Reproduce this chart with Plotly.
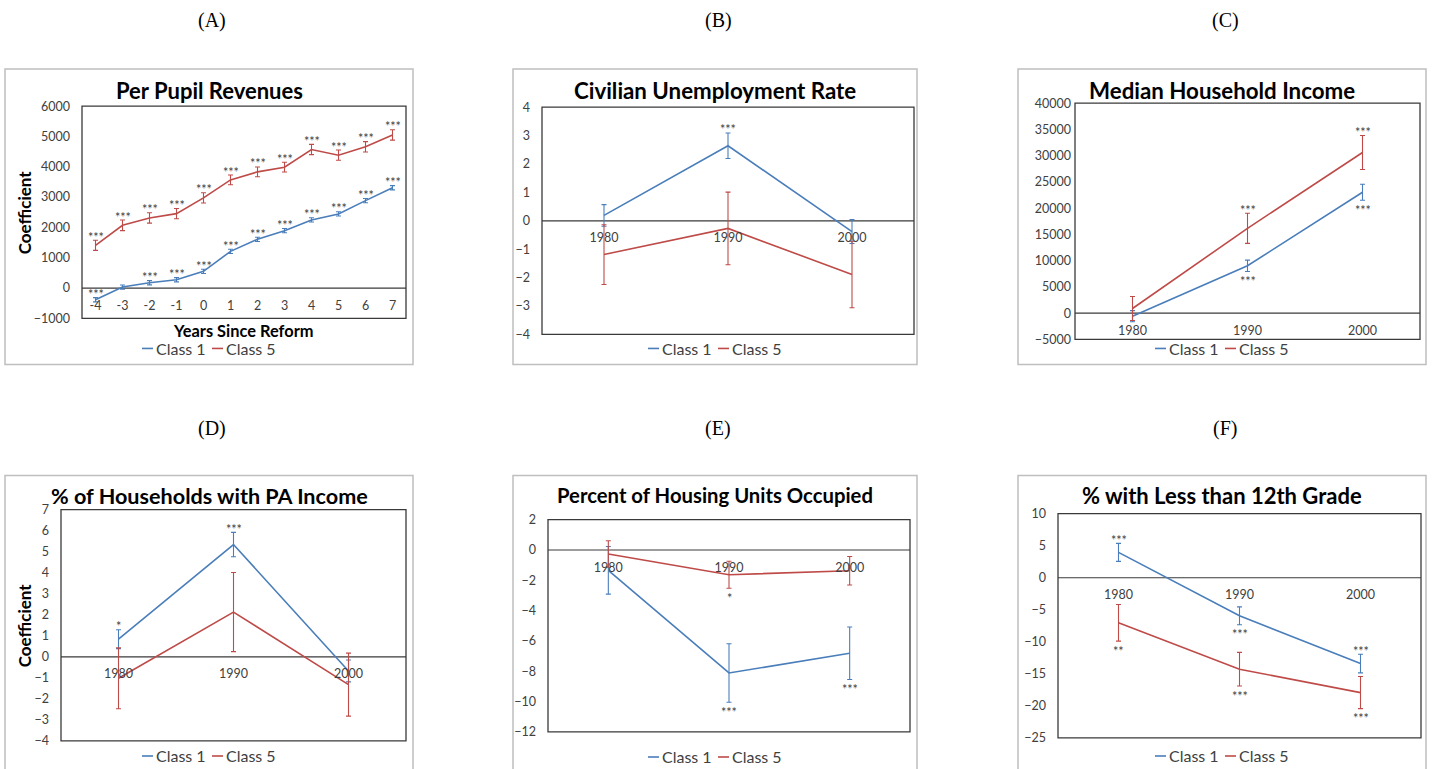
import plotly.graph_objects as go

W, H = 1432, 769

# ---------------- data ----------------
series_names = ["Class 1", "Class 5"]
years_since = ["-4", "-3", "-2", "-1", "0", "1", "2", "3", "4", "5", "6", "7"]
census_years = ["1980", "1990", "2000"]

# (A) Per pupil revenues by years since reform
rev_c1 = [-385, 33, 176, 275, 551, 1211, 1608, 1894, 2247, 2445, 2885, 3310]
rev_c1_err = [70, 70, 70, 70, 70, 70, 70, 70, 70, 70, 70, 70]
rev_c1_sig = ["***", "", "***", "***", "***", "***", "***", "***", "***", "***", "***", "***"]
rev_c5 = [1410, 2070, 2313, 2456, 2974, 3568, 3833, 3987, 4570, 4383, 4659, 5050]
rev_c5_err = [165, 175, 170, 170, 170, 160, 160, 160, 170, 170, 170, 170]
rev_c5_sig = ["***"] * 12

# (B) Civilian unemployment rate
unemp_c1 = [0.19, 2.64, -0.38]
unemp_c1_err = [0.38, 0.45, 0.42]
unemp_c1_sig = ["", "***", ""]
unemp_c5 = [-1.19, -0.27, -1.89]
unemp_c5_err = [1.05, 1.28, 1.17]
unemp_c5_sig = ["", "", ""]

# (C) Median household income
inc_c1 = [-570, 9030, 23030]
inc_c1_err = [1050, 1080, 1530]
inc_c1_sig = ["", "***", "***"]
inc_c5 = [890, 16160, 30600]
inc_c5_err = [2290, 2860, 3240]
inc_c5_sig = ["", "***", "***"]

# (D) % of households with public assistance income
pa_c1 = [0.84, 5.34, -0.67]
pa_c1_err = [0.45, 0.58, 0.52]
pa_c1_sig = ["*", "***", ""]
pa_c5 = [-1.02, 2.13, -1.32]
pa_c5_err = [1.45, 1.88, 1.50]
pa_c5_sig = ["", "", ""]

# (E) Percent of housing units occupied
occ_c1 = [-1.34, -8.11, -6.81]
occ_c1_err = [1.57, 1.93, 1.73]
occ_c1_sig = ["", "***", "***"]
occ_c5 = [-0.26, -1.63, -1.37]
occ_c5_err = [0.87, 0.89, 0.94]
occ_c5_sig = ["", "*", ""]

# (F) % with less than 12th grade
edu_c1 = [3.96, -5.94, -13.39]
edu_c1_err = [1.40, 1.40, 1.45]
edu_c1_sig = ["***", "***", "***"]
edu_c5 = [-7.03, -14.27, -17.92]
edu_c5_err = [2.86, 2.63, 2.50]
edu_c5_sig = ["**", "***", "***"]

# ---------------- styling ----------------
BLUE = "#4A7EBB"
RED = "#BE4B48"
FONT = "Lato"
TICK = "#404040"
FRAME = "#BFBFBF"
AXIS = "#3A3A3A"

# page rows are laid out on an 8px top inset with a 753px tall drawing band
TOP, SPAN = 8, 753


def px(x):
    return x / W


def py(y):
    return 1 - (y - TOP) / SPAN


panels = [
    dict(title="Per Pupil Revenues", tag="(A)", cats=years_since,
         s1=(rev_c1, rev_c1_err, rev_c1_sig), s5=(rev_c5, rev_c5_err, rev_c5_sig),
         side1=["up"] * 12, side5=["up"] * 12,
         yrange=(-1000, 6000), dtick=1000,
         plot=(82, 106, 406, 318), box=(5, 69, 413, 364), title_y=90, title_size=22,
         legend_y=348, tag_y=20, ypad=11, xtitle="Years Since Reform", ytitle=True),
    dict(title="Civilian Unemployment Rate", tag="(B)", cats=census_years,
         s1=(unemp_c1, unemp_c1_err, unemp_c1_sig), s5=(unemp_c5, unemp_c5_err, unemp_c5_sig),
         side1=["up"] * 3, side5=["up"] * 3,
         yrange=(-4, 4), dtick=1,
         plot=(542, 107, 914, 334), box=(513, 69, 917, 364), title_y=90, title_size=22.3,
         legend_y=348, tag_y=20, ypad=11, xtitle=None, ytitle=False),
    dict(title="Median Household Income", tag="(C)", cats=census_years,
         s1=(inc_c1, inc_c1_err, inc_c1_sig), s5=(inc_c5, inc_c5_err, inc_c5_sig),
         side1=["down"] * 3, side5=["up"] * 3,
         yrange=(-5000, 40000), dtick=5000,
         plot=(1075, 103, 1420, 339), box=(1018, 69, 1426, 364), title_y=90, title_size=22.3,
         legend_y=348, tag_y=20, ypad=3, xtitle=None, ytitle=False),
    dict(title="% of Households with PA Income", tag="(D)", cats=census_years,
         s1=(pa_c1, pa_c1_err, pa_c1_sig), s5=(pa_c5, pa_c5_err, pa_c5_sig),
         side1=["up"] * 3, side5=["up"] * 3,
         yrange=(-4, 7), dtick=1,
         plot=(61, 509, 406, 740), box=(5, 475, 413, 800), title_y=495, title_size=21.6,
         legend_y=755, tag_y=428, ypad=11, xtitle=None, ytitle=True),
    dict(title="Percent of Housing Units Occupied", tag="(E)", cats=census_years,
         s1=(occ_c1, occ_c1_err, occ_c1_sig), s5=(occ_c5, occ_c5_err, occ_c5_sig),
         side1=["down"] * 3, side5=["down"] * 3,
         yrange=(-12, 2), dtick=2,
         plot=(548, 519, 910, 731), box=(513, 475, 917, 800), title_y=494, title_size=20.3,
         legend_y=756, tag_y=428, ypad=11, xtitle=None, ytitle=False),
    dict(title="% with Less than 12th Grade", tag="(F)", cats=census_years,
         s1=(edu_c1, edu_c1_err, edu_c1_sig), s5=(edu_c5, edu_c5_err, edu_c5_sig),
         side1=["up", "down", "up"], side5=["down"] * 3,
         yrange=(-25, 10), dtick=5,
         plot=(1058, 513, 1421, 737), box=(1018, 475, 1426, 800), title_y=495, title_size=22,
         legend_y=755, tag_y=428, ypad=11, xtitle=None, ytitle=False),
]

fig = go.Figure()
shapes = []
annotations = []
layout_axes = {}

for n, p in enumerate(panels, start=1):
    xa = "x" if n == 1 else f"x{n}"
    ya = "y" if n == 1 else f"y{n}"
    xkey = "xaxis" if n == 1 else f"xaxis{n}"
    ykey = "yaxis" if n == 1 else f"yaxis{n}"
    x0, y0, x1, y1 = p["plot"]
    ymin, ymax = p["yrange"]
    ncat = len(p["cats"])
    idx = list(range(ncat))

    ydom = [py(y1), py(y0)]
    zero_pos = ydom[0] + (0 - ymin) / (ymax - ymin) * (ydom[1] - ydom[0])

    # category axis sits on the zero line, labels just underneath
    layout_axes[xkey] = dict(
        domain=[px(x0), px(x1)], anchor="free", position=zero_pos,
        range=[-0.5, ncat - 0.5], tickvals=idx, ticktext=p["cats"],
        showgrid=False, zeroline=False, showline=False, ticks="",
        ticklabelstandoff=8, tickfont=dict(family=FONT, size=12.5, color=TICK),
        fixedrange=True,
    )
    layout_axes[ykey] = dict(
        domain=ydom, anchor=xa, range=[ymin, ymax], dtick=p["dtick"],
        tick0=ymin, tickformat="d", showgrid=False, zeroline=False, showline=False,
        ticks="", ticklabelstandoff=p["ypad"],
        tickfont=dict(family=FONT, size=12.5, color=TICK),
        fixedrange=True,
    )

    for (vals, errs, sig), side, color, name in (
        (p["s1"], p["side1"], BLUE, series_names[0]),
        (p["s5"], p["side5"], RED, series_names[1]),
    ):
        fig.add_trace(go.Scatter(
            x=idx, y=vals, mode="lines", name=name, showlegend=False,
            xaxis=xa, yaxis=ya,
            line=dict(color=color, width=1.6),
            error_y=dict(type="data", array=errs, visible=True, color=color,
                         thickness=1.1, width=2.5),
            hoverinfo="skip",
        ))
        for i, (v, e, s) in enumerate(zip(vals, errs, sig)):
            if not s:
                continue
            if side[i] == "up":
                yv, shift = v + e, 3
            else:
                yv, shift = v - e, -10
            annotations.append(dict(
                x=i, y=yv, xref=xa, yref=ya, text=s, showarrow=False,
                yanchor="middle", xanchor="center", yshift=shift,
                font=dict(family=FONT, size=12.5, color=TICK),
            ))

    # plot-area frame and zero line
    shapes.append(dict(type="rect", xref=f"{xa} domain", yref=f"{ya} domain",
                       x0=0, x1=1, y0=0, y1=1, layer="below",
                       line=dict(color=AXIS, width=1.3)))
    shapes.append(dict(type="line", xref=f"{xa} domain", yref=ya,
                       x0=0, x1=1, y0=0, y1=0, layer="below",
                       line=dict(color=AXIS, width=1.2)))

    # chart frame
    bx0, by0, bx1, by1 = p["box"]
    shapes.append(dict(type="rect", xref="paper", yref="paper",
                       x0=px(bx0), x1=px(bx1), y0=py(by1), y1=py(by0),
                       line=dict(color=FRAME, width=1.5)))
    cx = (bx0 + bx1) / 2

    # chart title and panel tag
    annotations.append(dict(x=px(cx), y=py(p["title_y"]), xref="paper", yref="paper",
                            text=f"<b>{p['title']}</b>", showarrow=False,
                            xanchor="center", yanchor="middle",
                            font=dict(family=FONT, size=p["title_size"], color="#000000")))
    annotations.append(dict(x=px(cx + 3), y=py(p["tag_y"]), xref="paper", yref="paper",
                            text=p["tag"], showarrow=False, xanchor="center", yanchor="middle",
                            font=dict(family="Liberation Serif", size=20, color="#000000")))

    if p["xtitle"]:
        annotations.append(dict(x=px((x0 + x1) / 2), y=py(330), xref="paper", yref="paper",
                                text=f"<b>{p['xtitle']}</b>", showarrow=False,
                                xanchor="center", yanchor="middle",
                                font=dict(family=FONT, size=16.4, color="#000000")))
    if p["ytitle"]:
        annotations.append(dict(x=px(bx0 + 19), y=py((y0 + y1) / 2), xref="paper", yref="paper",
                                text="<b>Coefficient</b>", showarrow=False, textangle=-90,
                                xanchor="center", yanchor="middle",
                                font=dict(family=FONT, size=17, color="#000000")))

    # legend: short line swatch followed by the series name
    ly = p["legend_y"]
    for k, (name, color) in enumerate(zip(series_names, (BLUE, RED))):
        sx = cx - 67 + k * 70
        shapes.append(dict(type="line", xref="paper", yref="paper",
                           x0=px(sx), x1=px(sx + 11), y0=py(ly), y1=py(ly),
                           line=dict(color=color, width=1.6)))
        annotations.append(dict(x=px(sx + 12), y=py(ly), xref="paper", yref="paper",
                                text=name, showarrow=False, xanchor="left", yanchor="middle",
                                font=dict(family=FONT, size=16, color=TICK)))

fig.update_layout(
    width=W, height=H,
    margin=dict(l=0, r=0, t=0, b=0),
    paper_bgcolor="white", plot_bgcolor="white",
    showlegend=False,
    shapes=shapes, annotations=annotations,
    **layout_axes,
)

fig.write_html("out.html")
